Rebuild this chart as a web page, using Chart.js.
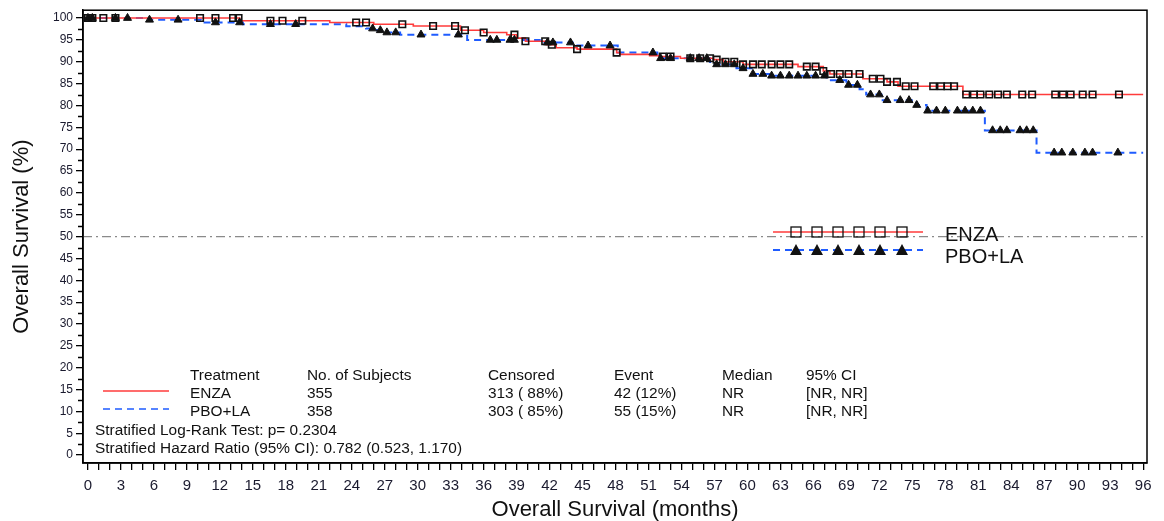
<!DOCTYPE html>
<html>
<head>
<meta charset="utf-8">
<script src="https://cdn.jsdelivr.net/npm/chart.js@4.4.1/dist/chart.umd.min.js"></script>
<style>
    body { margin: 0; background: #fff; }
    #km { display: block; }
</style>
</head>
<body>
<canvas id="km" width="1164" height="521"></canvas>
<script>
/* Kaplan-Meier overall survival, ENZA vs PBO+LA */

// step curves (months, % surviving)
const enza_t = [0, 13.8, 22, 26, 29.6, 33.9, 36, 38.1, 39, 39.8, 41.7, 42.6, 44.5, 48.1, 48.4, 51.1, 52, 53.9, 56.9, 57.8, 59.6, 64.6, 66.9, 67.5, 70.5, 72.7, 73.7, 79.6, 96];
const enza_s = [100, 99.4, 99.0, 98.6, 98.2, 97.2, 96.7, 96.2, 95.4, 94.7, 93.9, 93.2, 92.9, 92.1, 91.7, 91.4, 91.2, 90.8, 90.5, 90.0, 89.4, 88.9, 87.9, 87.2, 86.1, 85.4, 84.4, 82.5, 82.5];

const pbo_t = [0, 5.6, 10.3, 14.1, 23.5, 25.3, 26.3, 27.2, 28.4, 34.5, 41.1, 44.1, 48.2, 51.8, 56.6, 59, 60.5, 62, 67.2, 69, 70.2, 70.8, 72.3, 75.4, 76.3, 81.6, 86.3, 96];
const pbo_s = [100, 99.6, 99.0, 98.6, 98.1, 97.6, 97.2, 96.7, 96.2, 95.0, 94.4, 93.7, 92.1, 90.8, 89.4, 88.5, 87.2, 86.8, 85.8, 84.7, 83.7, 82.5, 81.2, 80.1, 78.8, 74.3, 69.2, 69.2];

// censoring times
const enza_cens = [0, 0.4, 1.4, 2.5, 10.2, 11.6, 13.2, 13.7, 16.6, 17.7, 19.5, 24.4, 25.3, 28.6, 31.4, 33.4, 34.3, 36, 38.8, 39.8, 41.6, 42.2, 44.5, 48.1, 52.3, 53, 54.8, 55.7, 56.6, 57.2, 58, 58.8, 59.6, 60.5, 61.3, 62.2, 63, 63.8, 65.4, 66.2, 66.9, 67.6, 68.4, 69.2, 70.2, 71.4, 72.1, 72.7, 73.6, 74.4, 75.2, 76.9, 77.6, 78.2, 78.8, 79.9, 80.6, 81.2, 82, 82.8, 83.6, 85, 85.9, 88, 88.7, 89.4, 90.5, 91.4, 93.8];
const pbo_cens = [0, 0.4, 2.5, 3.6, 5.6, 8.2, 11.6, 13.8, 16.6, 18.9, 25.9, 26.6, 27.2, 28, 30.3, 33.7, 36.6, 37.2, 38.4, 38.8, 41.8, 42.3, 43.9, 45.5, 47.5, 51.4, 52.1, 53, 54.8, 55.6, 56.3, 57.2, 58, 58.8, 59.6, 60.5, 61.4, 62.2, 63, 63.8, 64.6, 65.4, 66.2, 67, 68.4, 69.2, 70, 71.2, 72, 72.7, 73.9, 74.7, 75.4, 76.4, 77.2, 78, 79.1, 79.8, 80.5, 81.2, 82.3, 83, 83.6, 84.8, 85.4, 86, 87.9, 88.6, 89.6, 90.7, 91.4, 93.7];

const x_ticks = Array.from({ length: 97 }, (_, i) => i);
const y_ticks = Array.from({ length: 41 }, (_, i) => i * 2.5);
const x_min = -0.45, x_max = 96.35;
const y_min = -1.8, y_max = 101.8;

const series_names = ['ENZA', 'PBO+LA'];
const table_head = ['Treatment', 'No. of Subjects', 'Censored', 'Event', 'Median', '95% CI'];
const table_rows = [
    ['ENZA', '355', '313 ( 88%)', '42 (12%)', 'NR', '[NR, NR]'],
    ['PBO+LA', '358', '303 ( 85%)', '55 (15%)', 'NR', '[NR, NR]']
];
const stat_lines = [
    'Stratified Log-Rank Test: p= 0.2304',
    'Stratified Hazard Ratio (95% CI): 0.782 (0.523, 1.170)'
];

const RED = '#ff3b3b';
const BLUE = '#1f5cff';
const FONT = '"Liberation Sans", Arial, sans-serif';

function steps ( ts, ss )
{
    return ts.map((t, i) => ({ x: t, y: ss[i] }));
}

// value of the step curve at time t, to sit a censor mark on it
function at ( ts, ss, t )
{
    let v = ss[0];
    for ( let ii = 0; ii < ts.length; ++ii )
    {
        if ( ts[ii] <= t ) v = ss[ii];
    }
    return v;
}

function marks ( ts, ss, cens )
{
    return cens.map(t => ({ x: t, y: at(ts, ss, t) }));
}

// box, short minor ticks, right-hand legend and the summary table
const decor =
{
    id: 'decor',
    afterDraw ( chart )
    {
        const ctx = chart.ctx;
        const a = chart.chartArea;
        const ys = chart.scales.y;
        ctx.save();

        ctx.strokeStyle = '#000';
        ctx.lineWidth = 1.5;
        ctx.strokeRect(a.left, a.top, a.right - a.left, a.bottom - a.top);

        // minor y ticks (the library ones are hidden for these)
        ctx.lineWidth = 1.3;
        ctx.beginPath();
        for ( let v of y_ticks )
        {
            if ( v % 5 === 0 ) continue;
            const py = Math.round(ys.getPixelForValue(v)) + 0.5;
            ctx.moveTo(a.left - 5, py); ctx.lineTo(a.left, py);
        }
        ctx.stroke();

        // legend on the right
        const lx0 = 773, lx1 = 923;
        const mx = [796, 817, 838, 859, 880, 902];
        ctx.lineWidth = 1.5;
        ctx.strokeStyle = RED;
        ctx.setLineDash([]);
        ctx.beginPath(); ctx.moveTo(lx0, 232); ctx.lineTo(lx1, 232); ctx.stroke();
        ctx.strokeStyle = BLUE;
        ctx.lineWidth = 2;
        ctx.setLineDash([7, 5]);
        ctx.beginPath(); ctx.moveTo(lx0, 250); ctx.lineTo(lx1, 250); ctx.stroke();
        ctx.setLineDash([]);
        ctx.strokeStyle = '#111';
        ctx.fillStyle = '#111';
        ctx.lineWidth = 1.3;
        for ( let x of mx )
        {
            ctx.strokeRect(x - 5, 227, 10, 10);
            ctx.beginPath();
            ctx.moveTo(x, 244); ctx.lineTo(x - 6, 255); ctx.lineTo(x + 6, 255);
            ctx.closePath(); ctx.fill();
        }
        ctx.font = '20px ' + FONT;
        ctx.textBaseline = 'middle';
        ctx.textAlign = 'left';
        ctx.fillText(series_names[0], 945, 235);
        ctx.fillText(series_names[1], 945, 257);

        // table
        ctx.font = '15.4px ' + FONT;
        const cols = [190, 307, 488, 614, 722, 806];
        table_head.forEach((s, i) => ctx.fillText(s, cols[i], 376));
        table_rows.forEach((row, r) =>
        {
            row.forEach((s, i) => ctx.fillText(s, cols[i], 394 + r * 18));
        });
        stat_lines.forEach((s, i) => ctx.fillText(s, 95, 431 + i * 18));

        ctx.lineWidth = 1.5;
        ctx.strokeStyle = RED;
        ctx.beginPath(); ctx.moveTo(103, 391); ctx.lineTo(169, 391); ctx.stroke();
        ctx.strokeStyle = BLUE;
        ctx.setLineDash([7, 5]);
        ctx.beginPath(); ctx.moveTo(103, 409); ctx.lineTo(169, 409); ctx.stroke();

        ctx.restore();
    }
};

const data =
{
    datasets: [
        {
            label: 'ENZA censored',
            type: 'scatter',
            data: marks(enza_t, enza_s, enza_cens),
            pointStyle: 'rect',
            radius: 4.6,
            borderColor: '#111',
            backgroundColor: 'rgba(255,255,255,0)',
            borderWidth: 1.6,
            order: 1
        },
        {
            label: 'PBO+LA censored',
            type: 'scatter',
            data: marks(pbo_t, pbo_s, pbo_cens),
            pointStyle: 'triangle',
            radius: 4.6,
            borderColor: '#111',
            backgroundColor: '#111',
            borderWidth: 1,
            order: 1
        },
        {
            label: series_names[0],
            data: steps(enza_t, enza_s),
            stepped: 'before',
            borderColor: RED,
            borderWidth: 1.6,
            pointRadius: 0,
            order: 2
        },
        {
            label: series_names[1],
            data: steps(pbo_t, pbo_s),
            stepped: 'before',
            borderColor: BLUE,
            borderWidth: 2,
            borderDash: [7, 5],
            pointRadius: 0,
            order: 2
        },
        {
            label: 'median',
            data: [{ x: x_min, y: 50 }, { x: x_max, y: 50 }],
            borderColor: '#8a8a8a',
            borderWidth: 1.2,
            borderDash: [9, 4, 2, 4],
            pointRadius: 0,
            order: 3
        }
    ]
};

const options =
{
    responsive: false,
    animation: false,
    devicePixelRatio: 1,
    layout: { padding: { top: 9, right: 17, left: 0, bottom: 0 } },
    plugins: { legend: { display: false }, tooltip: { enabled: false } },
    scales:
    {
        x:
        {
            type: 'linear',
            min: x_min,
            max: x_max,
            afterBuildTicks: s => { s.ticks = x_ticks.map(v => ({ value: v })); },
            afterFit: s => { s.height = 58; },
            ticks:
            {
                autoSkip: false,
                maxRotation: 0,
                padding: 7,
                color: '#1a1a2e',
                font: { family: FONT, size: 15 },
                callback: v => (v % 3 === 0 ? String(v) : '')
            },
            grid: { drawOnChartArea: false, color: '#000', tickLength: 7, lineWidth: 1.3 },
            border: { color: '#000', width: 1.5 },
            title:
            {
                display: true,
                text: 'Overall Survival (months)',
                color: '#111',
                font: { family: FONT, size: 22, lineHeight: 1 },
                padding: 0
            }
        },
        y:
        {
            type: 'linear',
            min: y_min,
            max: y_max,
            afterBuildTicks: s => { s.ticks = y_ticks.map(v => ({ value: v })); },
            afterFit: s => { s.width = 83; },
            ticks:
            {
                autoSkip: false,
                padding: 3,
                color: '#1a1a2e',
                font: { family: FONT, size: 12 },
                callback: v => (v % 5 === 0 ? String(v) : '')
            },
            grid:
            {
                drawOnChartArea: false,
                color: '#000',
                tickLength: 7,
                lineWidth: 1.3,
                tickColor: c => (c.tick && c.tick.value % 5 === 0 ? '#000' : 'rgba(0,0,0,0)')
            },
            border: { color: '#000', width: 1.5 },
            title:
            {
                display: true,
                text: 'Overall Survival (%)',
                color: '#111',
                font: { family: FONT, size: 22, lineHeight: 1 },
                padding: { top: 11, bottom: 0 }
            }
        }
    }
};

new Chart(document.getElementById('km'), { type: 'line', data: data, options: options, plugins: [decor] });
</script>
</body>
</html>
